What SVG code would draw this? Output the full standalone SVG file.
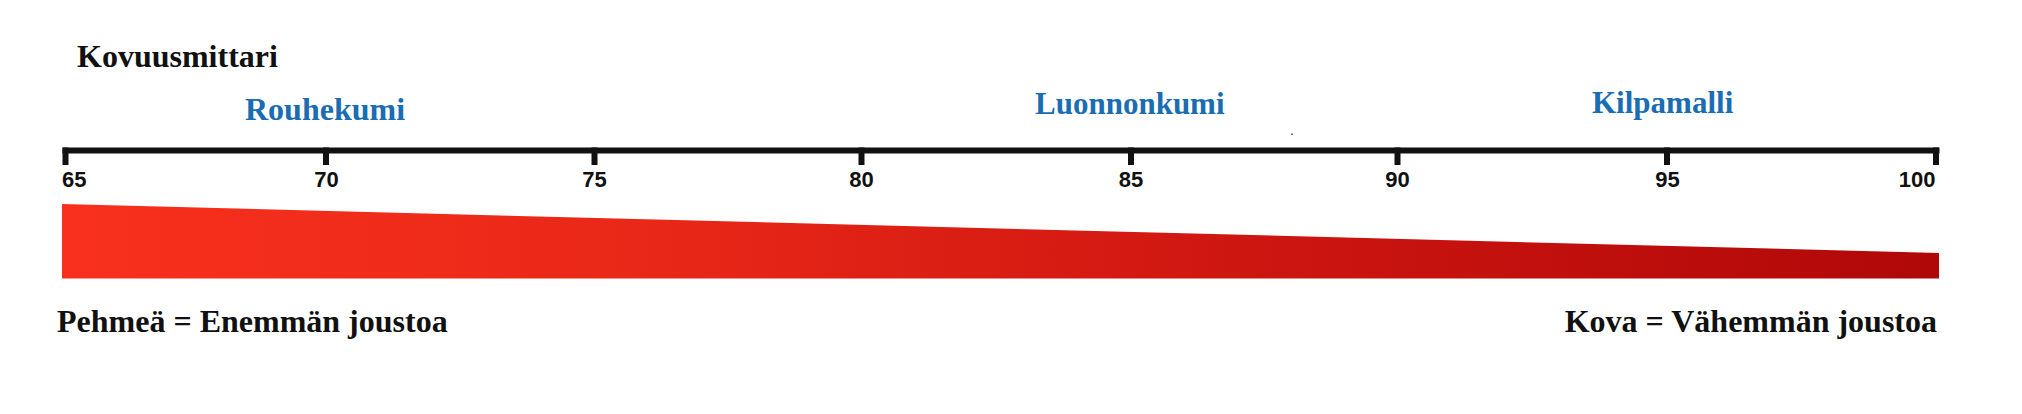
<svg xmlns="http://www.w3.org/2000/svg" width="2022" height="414" viewBox="0 0 2022 414">
  <style>
    .title { font-family: "Liberation Serif", "Times New Roman", serif; font-weight: bold; font-size: 32px; fill: #111; }
    .cat { font-family: "Liberation Serif", "Times New Roman", serif; font-weight: bold; font-size: 31px; fill: #1a6db2; }
    .num { font-family: "Liberation Sans", Arial, sans-serif; font-weight: bold; font-size: 22px; fill: #111; }
    .tick { fill: #111; }
  </style>
  <defs>
    <linearGradient id="redGrad" x1="62" y1="0" x2="1939" y2="0" gradientUnits="userSpaceOnUse">
      <stop offset="0" stop-color="#f8301d"/>
      <stop offset="0.3" stop-color="#ea2818"/>
      <stop offset="0.65" stop-color="#cc1510"/>
      <stop offset="1" stop-color="#b00808"/>
    </linearGradient>
  </defs>
  <rect width="2022" height="414" fill="#ffffff"/>

  <g id="title">
    <text class="title" x="77" y="67">Kovuusmittari</text>
  </g>

  <g id="categories">
    <text id="rouhekumi" class="cat" x="245" y="120" style="font-size:32px">Rouhekumi</text>
    <text id="luonnonkumi" class="cat" x="1035" y="114">Luonnonkumi</text>
    <text id="kilpamalli" class="cat" x="1592" y="113">Kilpamalli</text>
  </g>

  <g id="scale">
    <rect class="tick" x="62.5" y="147.5" width="1877" height="6"/>
    <rect class="tick" x="62.5" y="147.5" width="6" height="17.5"/>
    <rect class="tick" x="323" y="147.5" width="6" height="17.5"/>
    <rect class="tick" x="591.5" y="147.5" width="6" height="17.5"/>
    <rect class="tick" x="858.5" y="147.5" width="6" height="17.5"/>
    <rect class="tick" x="1128" y="147.5" width="6" height="17.5"/>
    <rect class="tick" x="1394.5" y="147.5" width="6" height="17.5"/>
    <rect class="tick" x="1664" y="147.5" width="6" height="17.5"/>
    <rect class="tick" x="1933" y="147.5" width="6" height="17.5"/>
    <rect x="1291" y="133.5" width="2" height="1.5" fill="#777"/>
  </g>

  <g id="labels">
    <text class="num" x="62" y="187">65</text>
    <text class="num" x="326.5" y="187" text-anchor="middle">70</text>
    <text class="num" x="594.5" y="187" text-anchor="middle">75</text>
    <text class="num" x="861.5" y="187" text-anchor="middle">80</text>
    <text class="num" x="1131" y="187" text-anchor="middle">85</text>
    <text class="num" x="1397.5" y="187" text-anchor="middle">90</text>
    <text class="num" x="1667.5" y="187" text-anchor="middle">95</text>
    <text class="num" x="1935.5" y="187" text-anchor="end">100</text>
  </g>

  <g id="hardness-wedge">
    <polygon points="62,204 1939,253 1939,278.5 62,278.5" fill="url(#redGrad)"/>
  </g>

  <g id="soft-label">
    <text class="title" x="57" y="332">Pehmeä = Enemmän joustoa</text>
  </g>
  <g id="hard-label">
    <text class="title" x="1937" y="332" text-anchor="end">Kova = Vähemmän joustoa</text>
  </g>
</svg>
